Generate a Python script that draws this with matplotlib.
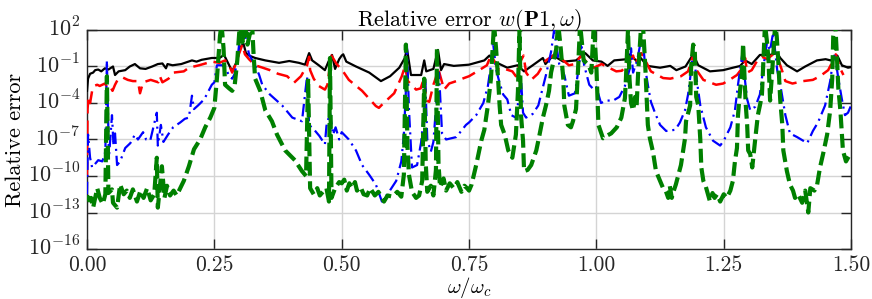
import numpy as np
import matplotlib
matplotlib.use("Agg")
import matplotlib.pyplot as plt
from matplotlib.transforms import ScaledTranslation

# ---- data: omega/omega_c and log10(relative error) ----
black_w = [0.0, 0.002, 0.006, 0.012, 0.016, 0.022, 0.028, 0.035, 0.042, 0.051, 0.055, 0.062, 0.075, 0.084,
           0.094, 0.104, 0.115, 0.128, 0.139, 0.148, 0.155, 0.158, 0.168, 0.185, 0.206, 0.215, 0.225, 0.245,
           0.26, 0.269, 0.285, 0.295, 0.3, 0.307, 0.312, 0.318, 0.33, 0.35, 0.377, 0.397, 0.416, 0.428,
           0.436, 0.442, 0.455, 0.467, 0.474, 0.481, 0.487, 0.495, 0.5, 0.503, 0.509, 0.528, 0.554, 0.577,
           0.595, 0.613, 0.624, 0.628, 0.636, 0.656, 0.662, 0.666, 0.68, 0.689, 0.695, 0.701, 0.72, 0.75,
           0.78, 0.79, 0.80, 0.825, 0.845, 0.858, 0.875, 0.895, 0.9, 0.915, 0.935, 0.96, 0.978, 0.993,
           1.01, 1.022, 1.035, 1.06, 1.066, 1.08, 1.087, 1.1, 1.125, 1.145, 1.157, 1.175, 1.19, 1.2,
           1.223, 1.249, 1.268, 1.282, 1.292, 1.305, 1.321, 1.341, 1.355, 1.361, 1.374, 1.394, 1.41,
           1.433, 1.45, 1.46, 1.473, 1.482, 1.494, 1.5]
black_log = [-3.0, -2.0, -1.6, -1.5, -1.3, -1.25, -1.4, -1.15, -1.25, -1.0, -1.7, -1.4, -1.3, -1.0,
             -0.8, -1.15, -1.2, -1.0, -0.8, -0.75, -1.15, -0.8, -0.9, -0.8, -0.5, -0.6, -0.45, -0.3,
             -0.3, -0.05, -1.4, -0.5, 0.5, 0.9, 0.1, -0.1, -0.3, -0.5, -0.7, -0.55, -0.7, -0.85,
             0.1, -0.5, -0.9, -1.3, -0.6, -0.05, -1.2, -0.4, -0.1, 0.0, -0.6, -1.0, -1.5, -2.2,
             -1.8, -1.1, -0.3, 0.5, -1.7, -1.7, -0.5, -1.4, -1.2, 0.36, -1.3, -0.8, -0.95, -0.85,
             -0.5, -0.1, -0.6, -1.1, -0.9, -1.4, -0.9, -0.3, -0.8, -0.1, -0.6, -0.5, 0.1, -0.5,
             -0.6, -0.95, -0.5, -0.4, 0.0, -0.6, -0.3, -0.95, -1.1, -0.95, -1.3, -1.0, 0.0, -0.9,
             -1.4, -1.3, -1.1, -0.96, -0.5, -0.8, -0.05, -0.05, 0.1, -0.3, -0.9, -1.4, -1.0,
             -0.5, -0.4, -0.5, -0.1, -0.9, -1.1, -1.05]

red_w = [0.0, 0.0005, 0.001, 0.003, 0.006, 0.01, 0.014, 0.02, 0.025, 0.03, 0.035, 0.04, 0.045, 0.05,
         0.055, 0.06, 0.07, 0.08, 0.09, 0.1, 0.104, 0.11, 0.125, 0.14, 0.143, 0.148, 0.16, 0.17, 0.19,
         0.2, 0.22, 0.245, 0.26, 0.271, 0.281, 0.285, 0.29, 0.298, 0.305, 0.31, 0.318, 0.33, 0.345,
         0.359, 0.375, 0.393, 0.406, 0.42, 0.432, 0.436, 0.438, 0.445, 0.455, 0.467, 0.472, 0.477,
         0.48, 0.49, 0.501, 0.514, 0.54, 0.555, 0.567, 0.573, 0.58, 0.603, 0.618, 0.624, 0.63, 0.646,
         0.655, 0.662, 0.666, 0.672, 0.68, 0.685, 0.689, 0.695, 0.701, 0.711, 0.725, 0.74, 0.75,
         0.77, 0.785, 0.793, 0.8, 0.809, 0.82, 0.835, 0.842, 0.852, 0.857, 0.862, 0.872, 0.885, 0.901,
         0.915, 0.925, 0.935, 0.946, 0.958, 0.97, 0.98, 0.995, 1.01, 1.02, 1.039, 1.05, 1.066, 1.072,
         1.076, 1.088, 1.096, 1.107, 1.12, 1.131, 1.145, 1.166, 1.18, 1.19, 1.195, 1.21, 1.235, 1.249,
         1.265, 1.276, 1.285, 1.292, 1.296, 1.305, 1.316, 1.325, 1.335, 1.347, 1.357, 1.365, 1.371,
         1.385, 1.406, 1.425, 1.439, 1.455, 1.465, 1.47, 1.478, 1.485]
red_log = [-10.0, -7.0, -4.5, -3.5, -4.0, -3.0, -2.6, -2.5, -2.6, -2.5, -2.4, -2.7, -2.6, -3.0,
           -2.5, -2.1, -1.9, -2.1, -2.2, -2.2, -3.2, -2.3, -2.1, -2.3, -1.8, -2.3, -2.0, -1.5, -1.4,
           -1.1, -0.9, -0.6, -0.7, -0.5, -1.1, -1.5, -1.0, 0.0, 0.8, 0.0, -0.4, -0.9, -1.1,
           -1.3, -1.6, -1.8, -2.35, -1.8, -0.9, -0.2, -1.3, -2.0, -2.6, -2.9, -2.5, -0.9,
           -0.1, -0.8, -1.3, -2.1, -3.0, -3.7, -4.25, -4.4, -4.1, -3.2, -1.8, -1.0, -2.2, -2.9,
           -2.8, -1.9, -3.8, -3.9, -2.5, -1.9, -1.1, -2.0, -2.9, -2.4, -2.2, -1.95, -1.8,
           -1.3, -0.9, -0.1, -0.6, -1.3, -1.2, -1.4, -1.8, -0.5, -0.1, -1.5, -2.1, -1.6, -0.5,
           -0.1, -0.1, -0.5, -0.9, -0.8, -0.1, -0.6, -1.1, -0.8, -1.0, -1.4, -1.35, -0.5, -0.1,
           -0.8, 0.1, -0.5, -1.4, -1.7, -1.95, -2.0, -1.8, -1.4, -0.1, -1.2, -2.1, -2.5, -2.4,
           -2.0, -1.7, -1.2, -0.3, -1.5, -1.3, -0.5, -0.2, -0.4, 0.0, -0.4, -1.4, -2.2,
           -2.4, -2.2, -2.1, -1.8, -1.3, -0.5, 0.0, -1.1, -1.7]

blue_w = [0.0, 0.002, 0.006, 0.01, 0.016, 0.022, 0.03, 0.036, 0.039, 0.043, 0.049, 0.052, 0.055, 0.059,
          0.065, 0.075, 0.085, 0.094, 0.1, 0.11, 0.116, 0.124, 0.137, 0.139, 0.145, 0.15, 0.159, 0.169,
          0.183, 0.192, 0.2, 0.206, 0.21, 0.218, 0.23, 0.245, 0.25, 0.255, 0.265, 0.272, 0.279, 0.285,
          0.29, 0.295, 0.3, 0.305, 0.312, 0.318, 0.33, 0.338, 0.344, 0.359, 0.383, 0.403, 0.422, 0.432,
          0.436, 0.446, 0.456, 0.467, 0.47, 0.477, 0.483, 0.488, 0.495, 0.5, 0.514, 0.528, 0.54, 0.554,
          0.567, 0.579, 0.593, 0.607, 0.617, 0.622, 0.626, 0.628, 0.632, 0.638, 0.648, 0.656, 0.662,
          0.664, 0.668, 0.675, 0.68, 0.687, 0.691, 0.697, 0.705, 0.725, 0.744, 0.75, 0.764, 0.778,
          0.787, 0.793, 0.797, 0.803, 0.809, 0.817, 0.825, 0.833, 0.842, 0.848, 0.852, 0.856, 0.862,
          0.875, 0.886, 0.901, 0.911, 0.917, 0.927, 0.937, 0.946, 0.958, 0.966, 0.97, 0.976, 0.986,
          0.995, 1.0, 1.009, 1.02, 1.033, 1.045, 1.056, 1.066, 1.068, 1.072, 1.08, 1.086, 1.092, 1.096,
          1.101, 1.107, 1.115, 1.125, 1.137, 1.155, 1.164, 1.174, 1.18, 1.184, 1.19, 1.196, 1.204,
          1.215, 1.229, 1.243, 1.25, 1.263, 1.272, 1.278, 1.286, 1.29, 1.296, 1.302, 1.312, 1.321,
          1.327, 1.335, 1.341, 1.347, 1.355, 1.361, 1.371, 1.38, 1.394, 1.414, 1.425, 1.435, 1.449,
          1.459, 1.465, 1.468, 1.475, 1.482, 1.488, 1.494, 1.5]
blue_log = [-11.5, -6.6, -8.5, -9.3, -9.0, -8.7, -8.8, -8.0, -0.5, -8.5, -5.0, -7.5, -6.5, -9.1,
            -8.8, -7.7, -7.3, -6.6, -7.0, -6.4, -7.0, -7.1, -4.8, -7.5, -5.8, -7.2, -6.6, -6.0,
            -5.6, -5.3, -5.2, -3.4, -4.5, -4.2, -3.7, -2.5, -2.3, -0.9, -0.9, -1.1, -1.8, -2.0,
            -1.6, -0.5, 1.3, 2.0, 1.3, 0.0, -0.9, -1.7, -2.5, -3.3, -4.2, -5.2, -5.5, -1.8,
            -5.8, -6.2, -6.7, -7.4, -5.9, -4.8, -6.6, -6.0, -7.0, -6.4, -7.0, -7.9, -9.1, -9.9,
            -10.7, -12.1, -11.3, -10.4, -8.8, -6.6, -3.0, 0.8, -4.5, -9.3, -9.1, -7.2, -4.5,
            -2.0, -7.0, -8.0, -7.2, -3.3, -1.5, -6.5, -7.0, -6.8, -5.8, -5.6, -5.0, -4.0,
            -2.6, -0.9, 1.0, -1.2, -2.2, -3.3, -3.7, -5.0, -5.2, -3.5, -2.0, -4.8, -5.2,
            -4.9, -4.2, -1.7, 0.2, 2.0, -0.8, -1.7, -3.4, -3.2, -0.9, 1.0, -0.9, -2.5,
            -2.9, -2.7, -4.0, -3.8, -3.8, -3.5, -2.6, -1.1, 0.5, -1.5, -0.5, 0.8, 0.9, -1.2,
            -2.5, -3.9, -4.8, -5.8, -6.3, -6.2, -5.6, -4.6, -3.3, -2.0, 0.3, -1.8, -4.2,
            -6.0, -7.1, -7.5, -7.1, -6.0, -4.6, -2.5, -0.1, -1.5, -3.7, -4.6, -4.3, -3.3,
            -1.3, 1.0, 0.3, 1.8, -1.3, -2.5, -5.0, -6.5, -6.8, -7.3, -6.3, -5.6, -4.2,
            -2.2, -0.4, 0.0, -2.0, -3.7, -5.0, -4.8, -4.2]

green_w = [0.0, 0.004, 0.008, 0.012, 0.02, 0.025, 0.031, 0.036, 0.039, 0.042, 0.049, 0.051, 0.059, 0.065,
           0.072, 0.078, 0.084, 0.09, 0.098, 0.105, 0.111, 0.118, 0.125, 0.132, 0.137, 0.139, 0.147,
           0.152, 0.157, 0.163, 0.17, 0.176, 0.183, 0.19, 0.2, 0.21, 0.222, 0.232, 0.242, 0.25,
           0.255, 0.261, 0.264, 0.268, 0.271, 0.279, 0.285, 0.29, 0.295, 0.3, 0.305, 0.31, 0.315,
           0.324, 0.327, 0.33, 0.34, 0.35, 0.363, 0.373, 0.389, 0.408, 0.422, 0.43, 0.434, 0.438,
           0.445, 0.452, 0.457, 0.465, 0.47, 0.475, 0.477, 0.48, 0.487, 0.495, 0.5, 0.505, 0.51,
           0.515, 0.52, 0.526, 0.53, 0.537, 0.543, 0.55, 0.556, 0.565, 0.572, 0.583, 0.59, 0.6,
           0.609, 0.617, 0.622, 0.626, 0.629, 0.632, 0.638, 0.646, 0.652, 0.658, 0.662, 0.665,
           0.668, 0.675, 0.68, 0.685, 0.687, 0.69, 0.693, 0.7, 0.705, 0.712, 0.72, 0.727, 0.735,
           0.741, 0.746, 0.75, 0.755, 0.764, 0.774, 0.78, 0.787, 0.793, 0.799, 0.803, 0.807, 0.81,
           0.813, 0.82, 0.827, 0.835, 0.842, 0.846, 0.849, 0.852, 0.856, 0.858, 0.865, 0.872, 0.882,
           0.887, 0.895, 0.901, 0.907, 0.911, 0.921, 0.925, 0.93, 0.935, 0.937, 0.944, 0.95, 0.954,
           0.96, 0.964, 0.968, 0.975, 0.985, 0.99, 0.995, 1.0, 1.004, 1.013, 1.02, 1.029, 1.04,
           1.049, 1.056, 1.058, 1.062, 1.065, 1.068, 1.072, 1.076, 1.079, 1.082, 1.088, 1.092, 1.096,
           1.101, 1.105, 1.111, 1.117, 1.125, 1.131, 1.136, 1.141, 1.144, 1.148, 1.152, 1.156, 1.166,
           1.174, 1.176, 1.184, 1.186, 1.19, 1.193, 1.196, 1.2, 1.204, 1.206, 1.21, 1.215, 1.223,
           1.228, 1.232, 1.237, 1.243, 1.25, 1.256, 1.263, 1.268, 1.272, 1.276, 1.278, 1.282, 1.286,
           1.288, 1.29, 1.293, 1.296, 1.298, 1.302, 1.306, 1.312, 1.317, 1.322, 1.325, 1.327, 1.331,
           1.335, 1.338, 1.341, 1.345, 1.351, 1.354, 1.357, 1.361, 1.365, 1.367, 1.374, 1.38, 1.386,
           1.39, 1.396, 1.404, 1.41, 1.416, 1.42, 1.428, 1.433, 1.439, 1.445, 1.453, 1.459, 1.463,
           1.465, 1.469, 1.472, 1.475, 1.479, 1.482, 1.484, 1.49, 1.494, 1.5]
green_log = [-11.6, -12.0, -11.8, -12.6, -11.0, -11.8, -12.3, -11.5, -1.8, -11.4, -11.1, -12.2, -12.6, -10.7,
             -11.5, -11.2, -11.8, -11.1, -12.1, -11.2, -11.8, -11.0, -12.0, -11.5, -8.5, -12.6, -9.2,
             -11.8, -10.8, -11.6, -11.2, -11.6, -11.0, -10.4, -9.2, -7.8, -7.0, -6.0, -5.2, -4.4,
             -2.0, 1.5, 2.5, 0.5, -2.5, -2.8, -3.0, -2.5, -0.5, 2.5, 1.0, 2.5, 0.8,
             2.5, 0.0, -2.0, -3.0, -4.6, -5.5, -6.6, -7.9, -8.7, -9.6, -10.0, -2.0, -11.0,
             -11.5, -11.0, -11.6, -11.2, -11.0, -12.1, -0.3, -11.8, -11.0, -10.5, -10.6, -10.3, -11.2,
             -10.6, -11.0, -10.5, -11.2, -10.9, -11.5, -11.6, -11.0, -11.6, -11.3, -12.1, -11.6, -11.7,
             -11.3, -11.7, -9.9, 0.8, -7.5, -9.9, -11.3, -11.8, -11.6, -10.4, -2.0, -9.0,
             -11.3, -10.8, -11.6, -9.5, 0.5, -9.0, -10.9, -10.2, -11.2, -10.6, -11.0, -10.5, -11.3,
             -10.8, -11.0, -11.2, -10.7, -9.1, -7.1, -6.2, -4.2, -2.0, 2.5, 0.5, -2.0, -4.2,
             -5.8, -6.6, -7.9, -8.5, -6.6, -3.0, 2.0, -5.0, -7.1, -9.6, -9.5, -9.1, -7.9,
             -6.9, -5.2, -4.2, -3.0, -1.5, 0.4, 2.5, 0.5, -2.0, -4.2, -5.8, -6.0, -5.5,
             -4.5, -1.2, 2.5, -0.5, -0.9, -1.5, 2.5, -1.0, -5.8, -6.9, -6.7, -6.5, -6.0,
             -5.2, -3.6, -2.0, 2.0, -2.0, -4.0, -4.6, -3.5, -4.2, -1.5, 2.5, 2.0, -1.0,
             -5.8, -6.9, -8.0, -9.6, -10.4, -11.0, -11.2, -11.8, -10.8, -11.8, -11.2, -10.7, -9.1,
             -6.9, -5.5, -4.2, -1.0, 0.8, 0.5, -3.5, -4.2, -7.0, -9.3, -10.4, -10.9, -12.1,
             -11.4, -11.8, -11.5, -12.1, -11.5, -11.8, -11.2, -10.4, -8.8, -7.7, -5.0, -3.0, -1.4,
             0.9, -1.0, -4.0, -5.8, -7.9, -8.2, -9.3, -6.9, -5.0, -4.0, -3.3, -1.3, 2.5,
             1.0, -0.5, -3.8, -1.5, 2.5, 1.5, -0.5, -3.8, -5.8, -7.9, -9.6, -10.7, -11.2,
             -11.8, -11.5, -12.2, -11.2, -13.0, -11.0, -11.2, -10.8, -9.3, -8.2, -6.6, -4.6, -2.0,
             1.5, 2.5, 0.0, -2.8, -4.6, -6.6, -7.9, -8.8, -8.5, -8.1]

x_ticks = [0.0, 0.25, 0.5, 0.75, 1.0, 1.25, 1.5]
y_tick_exps = [2, -1, -4, -7, -10, -13, -16]

# ---- styling ----
plt.rcParams['font.family'] = 'serif'
plt.rcParams['font.serif'] = ['cmr10', 'DejaVu Serif']
plt.rcParams['mathtext.fontset'] = 'cm'
plt.rcParams['axes.formatter.use_mathtext'] = True
plt.rcParams['lines.scale_dashes'] = False

fig = plt.figure(figsize=(8.72, 2.99), dpi=100)
ax = fig.add_axes([0.0998, 0.1672, 0.8762, 0.7325])

ax.grid(True, color='#d4d4d4', linewidth=1.0, zorder=0)
ax.set_axisbelow(True)

ax.plot(black_w, 10.0 ** np.array(black_log), color='black', lw=1.6, solid_joinstyle='round', zorder=3)
ax.plot(red_w, 10.0 ** np.array(red_log), color='#ff0000', lw=1.8, dashes=(10, 5), zorder=4)
ax.plot(blue_w, 10.0 ** np.array(blue_log), color='#0000ff', lw=1.6, dashes=(9, 3.5, 1.5, 3.5), zorder=5)
ax.plot(green_w, 10.0 ** np.array(green_log), color='#008000', lw=3.0, dashes=(10, 4), zorder=6)

ax.set_yscale('log')
ax.set_xlim(0, 1.5)
ax.set_ylim(1e-16, 1e2)
ax.set_xticks(x_ticks)
ax.set_xticklabels([f"{t:.2f}" for t in x_ticks])
ax.set_yticks([10.0 ** e for e in y_tick_exps])
ax.set_yticklabels([f"$10^{{{e}}}$" for e in y_tick_exps])
ax.minorticks_off()
ax.tick_params(axis='both', which='major', direction='in', length=7, width=1.0,
               top=True, right=True, colors='#262626')
ax.tick_params(axis='x', pad=5, labelsize=15.5)
ax.tick_params(axis='y', pad=5, labelsize=16)
ax.tick_params(axis='both', labelcolor='#262626')
for s in ax.spines.values():
    s.set_color('#262626')
    s.set_linewidth(1.0)

# raise y tick labels slightly, as in the reference
shift = ScaledTranslation(0, 2.5 / 72, fig.dpi_scale_trans)
for lab in ax.get_yticklabels():
    lab.set_transform(lab.get_transform() + shift)

ax.set_title(r"Relative error $w(\mathbf{P1},\omega)$", fontsize=16, pad=3)
ax.set_xlabel(r"$\omega/\omega_c$", fontsize=15)
ax.xaxis.set_label_coords(0.5, -0.118)
ax.set_ylabel("Relative error", fontsize=16, labelpad=2)

fig.savefig("out.png", dpi=100)
